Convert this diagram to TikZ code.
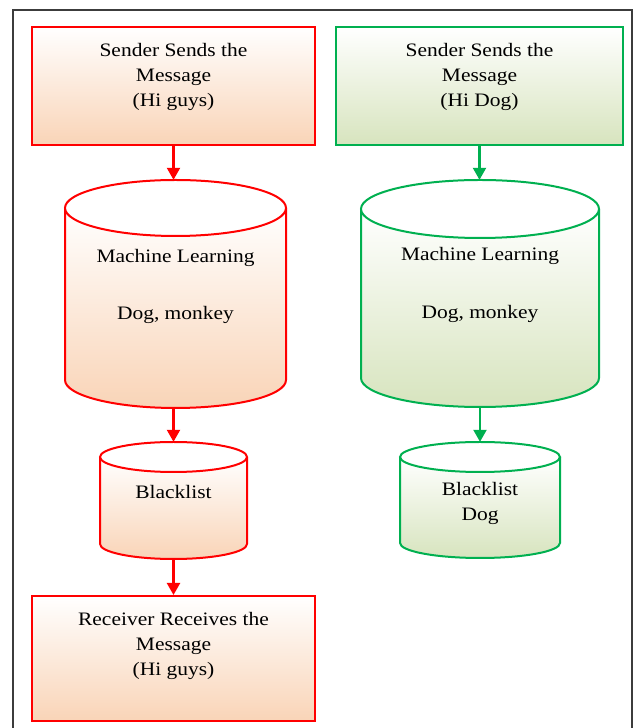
\documentclass[tikz,border=0pt]{standalone}
\usepackage{fontspec}
\setmainfont{Liberation Serif}[FakeStretch=1.13]
\usetikzlibrary{arrows.meta,calc}
\definecolor{rline}{RGB}{255,0,0}
\definecolor{rfill}{RGB}{249,212,183}
\definecolor{gline}{RGB}{0,176,80}
\definecolor{gfill}{RGB}{215,228,190}
\definecolor{framec}{RGB}{60,60,60}
\tikzset{
  cylline/.style={line width=2pt},
  boxr/.style={draw=rline, line width=2pt, top color=white, bottom color=rfill, inner sep=0pt},
  boxg/.style={draw=gline, line width=2pt, top color=white, bottom color=gfill, inner sep=0pt},
  txt/.style={font=\fontsize{19}{25}\selectfont, align=center, inner sep=0pt, text=black},
  arr/.style={line width=2.2pt, -{Triangle[length=12pt,width=13pt]}},
}
% name, cx, cy, halfwidth, halfheight, ry, line colour, fill colour
\newcommand\mycyl[8]{%
  \node[minimum width={2*#4pt}, minimum height={2*#5pt}, inner sep=0pt] (#1) at (#2,#3) {};
  \shade[top color=white, bottom color=#8] ({#2-#4},{#3+#5-#6}) -- ({#2-#4},{#3-#5+#6})
     arc[start angle=180,end angle=360,x radius=#4,y radius=#6] -- ({#2+#4},{#3+#5-#6}) -- cycle;
  \draw[cylline, draw=#7] ({#2-#4},{#3+#5-#6}) -- ({#2-#4},{#3-#5+#6})
     arc[start angle=180,end angle=360,x radius=#4,y radius=#6] -- ({#2+#4},{#3+#5-#6});
  \filldraw[cylline, draw=#7, fill=white] (#2,{#3+#5-#6}) ellipse[x radius=#4, y radius=#6];
}
\begin{document}
\begin{tikzpicture}[x=1pt,y=1pt]
\useasboundingbox (0,0) rectangle (637,728);
\clip (0,0) rectangle (637,728);
\fill[white] (0,0) rectangle (637,728);
% outer frame
\draw[framec, line width=2.2pt] (13,-10) -- (13,718) -- (632,718) -- (632,-10);

% left column
\node[boxr, minimum width=283pt, minimum height=118pt] (s1) at (173.5,642) {};
\node[txt] (s1t) at (173.5,651) {Sender Sends the\\Message\\(Hi guys)};
\mycyl{ml1}{175.5}{434}{110.5}{114}{28}{rline}{rfill}
\node[txt] (ml1t) at (175.5,441.5) {Machine Learning\\[32pt]Dog, monkey};
\mycyl{bl1}{173.5}{227.5}{73.5}{58.5}{15}{rline}{rfill}
\node[txt] (bl1t) at (173.5,235.5) {Blacklist};
\node[boxr, minimum width=283pt, minimum height=125pt] (r1) at (173.5,69.5) {};
\node[txt] (r1t) at (173.5,82) {Receiver Receives the\\Message\\(Hi guys)};

% right column
\node[boxg, minimum width=287pt, minimum height=118pt] (s2) at (479.5,642) {};
\node[txt] (s2t) at (479.5,651) {Sender Sends the\\Message\\(Hi Dog)};
\mycyl{ml2}{480}{434.5}{119}{113.5}{29}{gline}{gfill}
\node[txt] (ml2t) at (480,443.5) {Machine Learning\\[33pt]Dog, monkey};
\mycyl{bl2}{480}{228}{80}{58}{15}{gline}{gfill}
\node[txt] (bl2t) at (480,224.5) {Blacklist\\Dog};

% connectors
\draw[arr, rline] (s1.south) -- (s1.south |- ml1.north);
\draw[arr, rline] (s1.south |- ml1.south) -- (s1.south |- bl1.north);
\draw[arr, rline] (bl1.south) -- (r1.north);
\draw[arr, gline] (s2.south) -- (s2.south |- ml2.north);
\draw[arr, gline] (ml2.south) -- (bl2.north);
\end{tikzpicture}
\end{document}
